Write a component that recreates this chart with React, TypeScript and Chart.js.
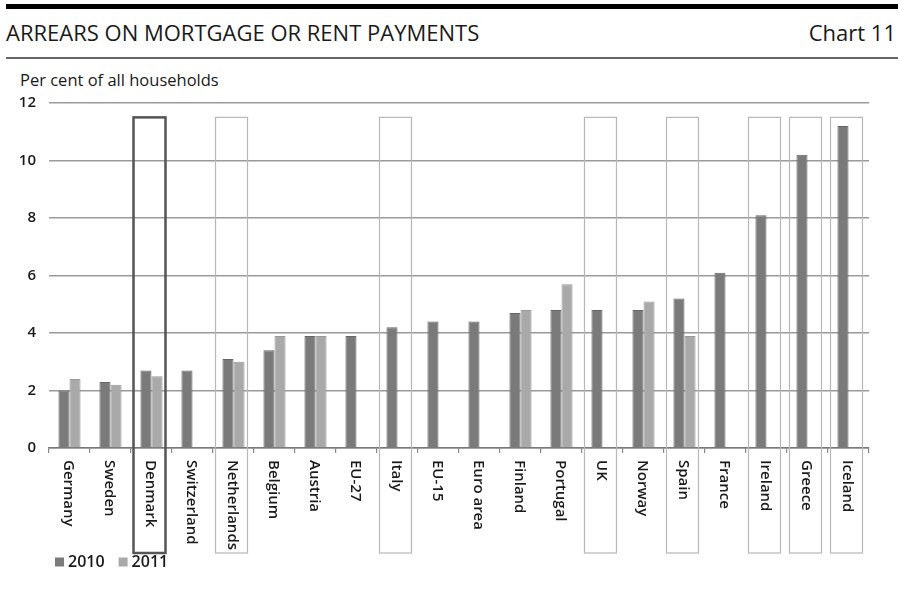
import React, { useEffect, useRef } from "react";
import { Chart, registerables } from "chart.js";

Chart.register(...registerables);

const categories = [
  "Germany", "Sweden", "Denmark", "Switzerland", "Netherlands", "Belgium", "Austria",
  "EU-27", "Italy", "EU-15", "Euro area", "Finland", "Portugal", "UK", "Norway",
  "Spain", "France", "Ireland", "Greece", "Iceland",
];
const values2010 = [2.0, 2.3, 2.7, 2.7, 3.1, 3.4, 3.9, 3.9, 4.2, 4.4, 4.4, 4.7, 4.8, 4.8, 4.8, 5.2, 6.1, 8.1, 10.2, 11.2];
const values2011 = [2.4, 2.2, 2.5, null, 3.0, 3.9, 3.9, null, null, null, null, 4.8, 5.7, null, 5.1, 3.9, null, null, null, null];
const seriesNames = ["2010", "2011"];
const highlighted = ["Denmark", "Netherlands", "Italy", "UK", "Spain", "Ireland", "Greece", "Iceland"];
const emphasised = ["Denmark"];
const boxTopValue = 11.5;
const yMax = 12;
const yStep = 2;

const FONT = "'Open Sans', 'Noto Sans', sans-serif";

const overlayPlugin = {
  id: "overlay",
  afterDraw(chart: any) {
    const { ctx, scales } = chart;
    const x = scales.x;
    const y = scales.y;
    const step = x.width / categories.length;
    ctx.save();
    // highlight boxes
    highlighted.forEach((name) => {
      const i = categories.indexOf(name);
      const cx = x.getPixelForValue(i) - 2;
      const w = step * 0.78;
      const top = y.getPixelForValue(boxTopValue);
      const bottom = x.bottom;
      const strong = emphasised.includes(name);
      ctx.strokeStyle = strong ? "#555555" : "#b8b8b8";
      ctx.lineWidth = strong ? 2.5 : 1.2;
      ctx.strokeRect(cx - w / 2, top, w, bottom - top);
    });
    // rotated category labels (reading top to bottom)
    ctx.fillStyle = "#1a1a1a";
    ctx.font = `600 15px ${FONT}`;
    ctx.textAlign = "left";
    ctx.textBaseline = "middle";
    categories.forEach((label, i) => {
      const cx = x.getPixelForValue(i) - 1;
      ctx.save();
      ctx.translate(cx, x.top + 12);
      ctx.rotate(Math.PI / 2);
      ctx.fillText(label, 0, 0);
      ctx.restore();
    });
    // legend
    let lx = x.left + 6;
    const ly = x.bottom + 9;
    ctx.font = `600 16px ${FONT}`;
    chart.data.datasets.forEach((ds: any) => {
      ctx.fillStyle = ds.backgroundColor;
      ctx.fillRect(lx, ly - 4.5, 9, 9);
      ctx.fillStyle = "#1a1a1a";
      ctx.fillText(ds.label, lx + 13, ly);
      lx += 13 + ctx.measureText(ds.label).width + 14;
    });
    ctx.restore();
  },
};

function BarChart() {
  const ref = useRef<HTMLCanvasElement>(null);
  useEffect(() => {
    if (!ref.current) return;
    const chart = new Chart(ref.current, {
      type: "bar",
      data: {
        labels: categories,
        datasets: [
          {
            label: seriesNames[0],
            data: values2010,
            backgroundColor: "#7a7a7a",
            borderColor: "#666666",
            borderWidth: 1,
          },
          {
            label: seriesNames[1],
            data: values2011 as any,
            backgroundColor: "#a9a9a9",
            borderColor: "#999999",
            borderWidth: 1,
          },
        ],
      },
      options: {
        responsive: false,
        animation: false,
        layout: { padding: { left: 8, right: 31, top: 3, bottom: 37 } },
        datasets: { bar: { categoryPercentage: 0.54, barPercentage: 1.0 } },
        plugins: {
          legend: { display: false },
          tooltip: { enabled: false },
          title: { display: false },
        },
        scales: {
          x: {
            offset: true,
            ticks: { display: false },
            grid: {
              offset: true,
              drawOnChartArea: false,
              drawTicks: true,
              tickLength: 5,
              color: "#888888",
              lineWidth: 1.2,
            },
            border: { display: true, color: "#7a7a7a", width: 1.5 },
            afterFit(scale: any) {
              scale.height = 105;
            },
          },
          y: {
            min: 0,
            max: yMax,
            ticks: {
              stepSize: yStep,
              padding: 13,
              color: "#1a1a1a",
              font: { family: FONT, size: 15, weight: "600" as any },
            },
            grid: { color: "#9a9a9a", lineWidth: 1.5, drawTicks: false },
            border: { display: false },
            afterFit(scale: any) {
              scale.width = 41;
            },
          },
        },
      },
      plugins: [overlayPlugin],
    });
    return () => chart.destroy();
  }, []);
  return <canvas ref={ref} width={900} height={509} style={{ display: "block" }} />;
}

export default function App() {
  return (
    <div
      style={{
        position: "absolute",
        top: 0,
        left: 0,
        width: 900,
        height: 590,
        background: "#ffffff",
        fontFamily: FONT,
        color: "#1a1a1a",
        overflow: "hidden",
      }}
    >
      <div style={{ position: "absolute", left: 6, right: 2, top: 4, height: 5, background: "#000" }} />
      <div style={{ position: "absolute", left: 6, top: 21, fontSize: 22, lineHeight: "22px", whiteSpace: "nowrap" }}>
        ARREARS ON MORTGAGE OR RENT PAYMENTS
      </div>
      <div style={{ position: "absolute", right: 4, top: 21, fontSize: 22, lineHeight: "22px", whiteSpace: "nowrap" }}>
        Chart 11
      </div>
      <div style={{ position: "absolute", left: 6, right: 2, top: 57, height: 2, background: "#666" }} />
      <div style={{ position: "absolute", left: 20, top: 72, fontSize: 16.5, lineHeight: "16px", whiteSpace: "nowrap" }}>
        Per cent of all households
      </div>
      <div style={{ position: "absolute", left: 0, top: 81 }}>
        <BarChart />
      </div>
    </div>
  );
}
